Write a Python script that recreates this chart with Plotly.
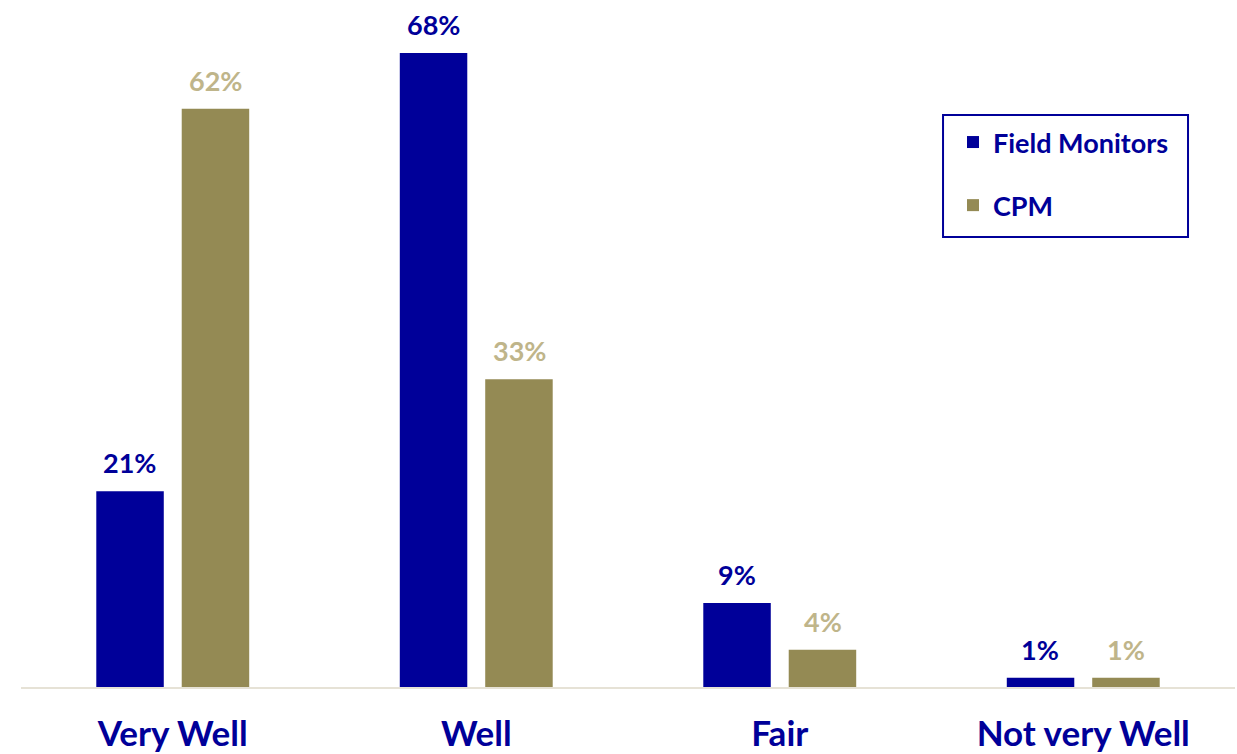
import plotly.graph_objects as go

categories = ["Very Well", "Well", "Fair", "Not very Well"]
field_monitors = [21, 68, 9, 1]
cpm = [62, 33, 4, 1]

BLUE = "#000099"
TAN = "#948A54"
TAN_LABEL = "#BFB58A"
FONT = "Lato"

fig = go.Figure()
fig.add_trace(go.Bar(
    name="Field Monitors", x=categories, y=field_monitors,
    marker=dict(color=BLUE, line=dict(width=0)),
    legendgroup="fm",
))
fig.add_trace(go.Bar(
    name="CPM", x=categories, y=cpm,
    marker=dict(color=TAN, line=dict(width=0)),
    legendgroup="cpm",
))

# value labels above each bar
annotations = []
for i, c in enumerate(categories):
    annotations.append(dict(
        x=c, y=field_monitors[i], xref="x", yref="y",
        text=f"<b>{field_monitors[i]}%</b>", showarrow=False,
        yanchor="bottom", yshift=10, xshift=-43,
        font=dict(family=FONT, size=27, color=BLUE),
    ))
    annotations.append(dict(
        x=c, y=cpm[i], xref="x", yref="y",
        text=f"<b>{cpm[i]}%</b>", showarrow=False,
        yanchor="bottom", yshift=10, xshift=43,
        font=dict(family=FONT, size=27, color=TAN_LABEL),
    ))

fig.update_layout(
    width=1237, height=754,
    margin=dict(l=21, r=2, t=10, b=67),
    paper_bgcolor="white", plot_bgcolor="white",
    barmode="group", bargap=0.437, bargroupgap=0.21,
    font=dict(family=FONT, color=BLUE),
    annotations=annotations,
    showlegend=True,
    legend=dict(
        x=0.7677, y=0.8405, xanchor="left", yanchor="top",
        borderwidth=0, bgcolor="rgba(0,0,0,0)",
        font=dict(family=FONT, size=27, color=BLUE, weight="bold"),
        tracegroupgap=25,
    ),
    # frame around the legend
    shapes=[dict(
        type="rect", xref="paper", yref="paper",
        x0=0.7595, x1=0.9613, y0=0.6647, y1=0.8449,
        line=dict(color=BLUE, width=2), fillcolor="rgba(0,0,0,0)",
        layer="below",
    )],
)
fig.update_xaxes(
    showline=True, linecolor="#E6E2D6", linewidth=2,
    ticks="", showgrid=False, ticklabelstandoff=15,
    tickfont=dict(family=FONT, size=35, color=BLUE, weight="bold"),
)
fig.update_yaxes(
    range=[0, 72.6], visible=False, showgrid=False, zeroline=False,
)

fig.write_html("out.html")
